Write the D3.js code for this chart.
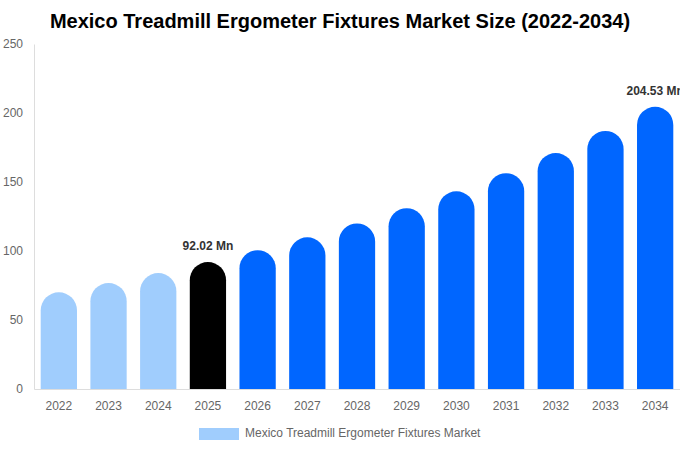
<!DOCTYPE html>
<html>
<head>
<meta charset="utf-8">
<script src="https://cdn.jsdelivr.net/npm/d3@7"></script>
<style>
  body { margin: 0; background: #fff; }
  svg { font-family: "Liberation Sans", Arial, sans-serif; display: block; }
</style>
</head>
<body>
<script>
// data
const years = ["2022", "2023", "2024", "2025", "2026", "2027", "2028", "2029", "2030", "2031", "2032", "2033", "2034"];
const values = [70.1, 76.8, 84.0, 92.02, 100.6, 109.9, 120.0, 131.0, 143.3, 156.4, 171.0, 187.0, 204.53];
const yTicks = [0, 50, 100, 150, 200, 250];
const labelled = { "2025": "92.02 Mn", "2034": "204.53 Mn" };

const width = 680;
const height = 450;
const plotLeft = 34, plotRight = 680, plotTop = 44, plotBottom = 389;

const svg = d3.select("body").append("svg")
    .attr("width", width)
    .attr("height", height);

// scales
const x = d3.scaleBand()
    .domain(years)
    .range([plotLeft, plotRight])
    .paddingInner(0.27)
    .paddingOuter(0.135);

const y = d3.scaleLinear()
    .domain([0, 250])
    .range([plotBottom, plotTop]);

// colour per year: history, base year, forecast
function barColor(yr) {
    if (+yr < 2025) return "#a0cdfd";
    if (+yr === 2025) return "#000000";
    return "#0066ff";
}

// title
svg.append("text")
    .attr("x", 340)
    .attr("y", 28)
    .attr("text-anchor", "middle")
    .attr("font-size", 20)
    .attr("font-weight", "bold")
    .attr("fill", "#000")
    .text("Mexico Treadmill Ergometer Fixtures Market Size (2022-2034)");

// y axis
const yAxis = svg.append("g")
    .attr("transform", "translate(" + plotLeft + ",0)")
    .call(d3.axisLeft(y).tickValues(yTicks).tickSize(0).tickPadding(11));
yAxis.select(".domain").attr("stroke", "#ddd");
yAxis.selectAll("text").attr("fill", "#666").attr("font-size", 12)
    .attr("font-family", "'Liberation Sans', Arial, sans-serif");

// x axis
const xAxis = svg.append("g")
    .attr("transform", "translate(0," + plotBottom + ")")
    .call(d3.axisBottom(x).tickSize(0).tickPadding(12));
xAxis.select(".domain").attr("stroke", "#ddd");
xAxis.selectAll("text").attr("fill", "#666").attr("font-size", 12)
    .attr("font-family", "'Liberation Sans', Arial, sans-serif");

// bars with rounded tops
const bw = x.bandwidth();
const r = bw / 2;
svg.selectAll("path.bar")
    .data(years)
    .enter()
    .append("path")
    .attr("class", "bar")
    .attr("fill", d => barColor(d))
    .attr("d", (d, i) => {
        const x0 = x(d), x1 = x0 + bw;
        const yt = y(values[i]);
        const y0 = y(0);
        return "M" + x0 + "," + y0 +
            "L" + x0 + "," + (yt + r) +
            "A" + r + "," + r + " 0 0 1 " + x1 + "," + (yt + r) +
            "L" + x1 + "," + y0 + "Z";
    });

// value labels
svg.selectAll("text.val")
    .data(years.filter(d => labelled[d]))
    .enter()
    .append("text")
    .attr("class", "val")
    .attr("x", d => x(d) + bw / 2)
    .attr("y", d => y(values[years.indexOf(d)]) - 12)
    .attr("text-anchor", "middle")
    .attr("font-size", 12)
    .attr("font-weight", "bold")
    .attr("fill", "#333")
    .text(d => labelled[d]);

// legend
svg.append("rect")
    .attr("x", 199)
    .attr("y", 428)
    .attr("width", 40)
    .attr("height", 12)
    .attr("fill", "#a0cdfd");
svg.append("text")
    .attr("x", 245)
    .attr("y", 437)
    .attr("font-size", 12)
    .attr("fill", "#666")
    .text("Mexico Treadmill Ergometer Fixtures Market");
</script>
</body>
</html>
